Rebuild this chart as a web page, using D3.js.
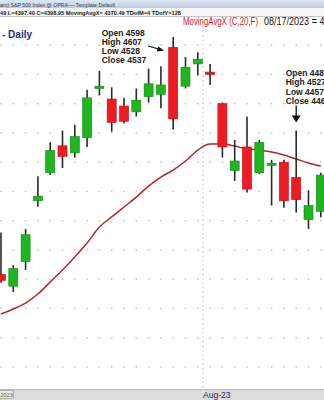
<!DOCTYPE html>
<html>
<head>
<meta charset="utf-8">
<script src="https://cdn.jsdelivr.net/npm/d3@7"></script>
<style>
  html, body { margin: 0; padding: 0; background: #fff; }
  svg { display: block; font-family: "Liberation Sans", Arial, sans-serif; }
</style>
</head>
<body>
<div id="chart"></div>
<script>
// daily bars, S&P 500, Jul 7 - Aug 14 2023
const dates = ["07/07", "07/10", "07/11", "07/12", "07/13", "07/14", "07/17", "07/18", "07/19",
  "07/20", "07/21", "07/24", "07/25", "07/26", "07/27", "07/28", "07/31", "08/01", "08/02",
  "08/03", "08/04", "08/07", "08/08", "08/09", "08/10", "08/11", "08/14"];
const opens = [4404, 4394, 4415, 4467, 4491, 4514, 4508, 4521, 4563, 4554, 4548, 4543, 4556, 4558,
  4598, 4565, 4584, 4577, 4550, 4493, 4513, 4491, 4498, 4500, 4487, 4451, 4458];
const highs = [4440, 4412, 4443, 4488, 4517, 4527, 4532, 4562, 4578, 4564, 4555, 4563, 4580, 4582,
  4607, 4590, 4594, 4584, 4551, 4519, 4539, 4519, 4502, 4502, 4527, 4476, 4491];
const lows = [4397, 4389, 4408, 4462, 4489, 4495, 4504, 4513, 4557, 4526, 4533, 4539, 4551, 4546,
  4528, 4563, 4574, 4566, 4504, 4484, 4474, 4490, 4463, 4461, 4457, 4443, 4453];
const closes = [4399, 4409, 4438, 4471, 4510, 4505, 4522, 4555, 4565, 4534, 4535, 4553, 4567, 4566,
  4537, 4581, 4588, 4575, 4513, 4501, 4477, 4517, 4499, 4467, 4468, 4463, 4489];
// MovingAvgX (C,20,F)
const maValues = [4370.2, 4374.5, 4379.6, 4387.3, 4397.6, 4407.9, 4419.0, 4430.9, 4444.6, 4453.2,
  4461.7, 4470.2, 4479.6, 4487.3, 4493.3, 4501.0, 4510.4, 4515.5, 4515.5, 4513.8, 4511.3, 4510.4,
  4508.7, 4506.1, 4502.7, 4499.3, 4496.7];
const gridPrices = [4600, 4575, 4550, 4525, 4500, 4475, 4450, 4425, 4400, 4375, 4350, 4325];

const noteDates = ["07/27", "08/10"];
const noteLines = [
  ["Open 4598", "High 4607", "Low 4528", "Close 4537"],
  ["Open 4487", "High 4527", "Low 4457", "Close 4468"]
];
const monthLabels = ["Aug-23"];
const monthStarts = ["08/01"];

const headerLine1 = "am) S&P 500 Index @ OPRA  \u2014  Template Default";
const headerLine2 = "49  L=4397.40  C=4398.95  MovingAvgX= 4370.49  TDofM=4  TDofY=128";

const width = 324, height = 400;
const plotTop = 17, plotBottom = 389;
const bodyWidth = 9;
const upColor = "#1fb51f", upStroke = "#0f8a0f";
const downColor = "#ee1b22", downStroke = "#c0080e";

const x = d3.scalePoint().domain(dates).range([1, 320.8]);
const y = d3.scaleLinear().domain([4607, 4457]).range([37, 212.5]);
const I = d3.range(dates.length);

const svg = d3.select("#chart")
  .append("svg")
  .attr("width", width)
  .attr("height", height)
  .attr("viewBox", [0, 0, width, height]);

// header strips
const grad = svg.append("defs").append("linearGradient")
  .attr("id", "hdr").attr("x1", "0%").attr("y1", "0%").attr("x2", "0%").attr("y2", "100%");
grad.append("stop").attr("offset", "0%").attr("stop-color", "#dde7f3");
grad.append("stop").attr("offset", "100%").attr("stop-color", "#bccde3");

svg.append("rect").attr("x", 0).attr("y", 0).attr("width", width).attr("height", 8).attr("fill", "url(#hdr)");
svg.append("rect").attr("x", 0).attr("y", 8).attr("width", width).attr("height", 8).attr("fill", "#f6f6f6");
svg.append("line").attr("x1", 0).attr("x2", width).attr("y1", 16.5).attr("y2", 16.5)
  .attr("stroke", "#c8c8c8").attr("stroke-width", 1);

svg.append("text")
  .attr("x", 0).attr("y", 6.8)
  .attr("font-size", 5.6).attr("fill", "#3a3a4a")
  .attr("textLength", 115).attr("lengthAdjust", "spacingAndGlyphs")
  .text(headerLine1);

svg.append("text")
  .attr("x", 0).attr("y", 14.6)
  .attr("font-size", 5.8).attr("font-weight", "bold").attr("fill", "#1a1a1a")
  .attr("textLength", 181).attr("lengthAdjust", "spacingAndGlyphs")
  .text(headerLine2);

// dotted grid
const grid = svg.append("g").attr("fill", "#c2c2c2");
gridPrices.forEach((p) => {
  grid.selectAll(null)
    .data(I)
    .join("rect")
    .attr("x", (i) => x(dates[i]) - 0.75)
    .attr("y", y(p) - 0.75)
    .attr("width", 1.5)
    .attr("height", 1.5);
});

// month separator
monthStarts.forEach((d, k) => {
  const i = dates.indexOf(d);
  const mx = (x(dates[i - 1]) + x(dates[i])) / 2 - 1;
  svg.append("line")
    .attr("x1", mx).attr("x2", mx)
    .attr("y1", plotTop).attr("y2", plotBottom)
    .attr("stroke", "#b8b8b8").attr("stroke-width", 1)
    .attr("stroke-dasharray", "1.5,3");
});

// moving average
const ma = d3.line()
  .x((i) => x(dates[i]))
  .y((i) => y(maValues[i]))
  .curve(d3.curveMonotoneX);

svg.append("path")
  .attr("d", ma(I))
  .attr("fill", "none")
  .attr("stroke", "#b3262a")
  .attr("stroke-width", 1.5);

// candles
const candles = svg.append("g");

candles.selectAll("line")
  .data(I)
  .join("line")
  .attr("x1", (i) => x(dates[i]))
  .attr("x2", (i) => x(dates[i]))
  .attr("y1", (i) => y(highs[i]))
  .attr("y2", (i) => y(lows[i]))
  .attr("stroke", "#2a2a2a")
  .attr("stroke-width", 1.6);

candles.selectAll("rect")
  .data(I)
  .join("rect")
  .attr("x", (i) => x(dates[i]) - bodyWidth / 2)
  .attr("y", (i) => Math.min(y(opens[i]), y(closes[i])))
  .attr("width", bodyWidth)
  .attr("height", (i) => Math.max(2, Math.abs(y(opens[i]) - y(closes[i]))))
  .attr("fill", (i) => (closes[i] >= opens[i] ? upColor : downColor))
  .attr("stroke", (i) => (closes[i] >= opens[i] ? upStroke : downStroke))
  .attr("stroke-width", 0.6);

// "- Daily" and study title
svg.append("text")
  .attr("x", 2).attr("y", 37.5)
  .attr("font-size", 10).attr("font-weight", "bold").attr("fill", "#25307a")
  .attr("textLength", 30).attr("lengthAdjust", "spacingAndGlyphs")
  .text("- Daily");

svg.append("text")
  .attr("x", 183).attr("y", 25)
  .attr("font-size", 10.8).attr("fill", "#d4202a")
  .attr("textLength", 75).attr("lengthAdjust", "spacingAndGlyphs")
  .text("MovingAvgX (C,20,F)");

svg.append("text")
  .attr("x", 264).attr("y", 25)
  .attr("font-size", 10.8).attr("fill", "#111")
  .attr("textLength", 88).attr("lengthAdjust", "spacingAndGlyphs")
  .text("08/17/2023 = 4370.36");

// annotations
const noteG = svg.append("g")
  .attr("font-size", 8.5).attr("font-weight", "bold").attr("fill", "#222");

// first note: text left of bar, diagonal arrow
{
  const i = dates.indexOf(noteDates[0]);
  const cx = x(dates[i]), hy = y(highs[i]);
  noteLines[0].forEach((t, k) => {
    noteG.append("text").attr("x", cx - 71.5).attr("y", hy - 1.5 + k * 9.3).text(t);
  });
  svg.append("line")
    .attr("x1", cx - 25).attr("y1", hy + 9)
    .attr("x2", cx - 13).attr("y2", hy + 12.5)
    .attr("stroke", "#111").attr("stroke-width", 1.2);
  svg.append("path")
    .attr("d", `M${cx - 9},${hy + 13.5} L${cx - 15},${hy + 9.5} L${cx - 16.5},${hy + 14.5} Z`)
    .attr("fill", "#111");
}

// second note: text above bar, down arrow
{
  const i = dates.indexOf(noteDates[1]);
  const cx = x(dates[i]), hy = y(highs[i]);
  noteLines[1].forEach((t, k) => {
    noteG.append("text").attr("x", cx - 10.5).attr("y", hy - 55 + k * 9.5).text(t);
  });
  svg.append("line")
    .attr("x1", cx).attr("x2", cx)
    .attr("y1", hy - 25).attr("y2", hy - 14)
    .attr("stroke", "#111").attr("stroke-width", 1.3);
  svg.append("path")
    .attr("d", `M${cx - 4.5},${hy - 15} L${cx + 4.5},${hy - 15} L${cx},${hy - 8} Z`)
    .attr("fill", "#111");
}

// bottom date axis
svg.append("rect")
  .attr("x", 0).attr("y", plotBottom).attr("width", width).attr("height", height - plotBottom)
  .attr("fill", "#dcdcdc");
svg.append("line")
  .attr("x1", 0).attr("x2", width).attr("y1", plotBottom + 0.5).attr("y2", plotBottom + 0.5)
  .attr("stroke", "#bdbdbd");

monthStarts.forEach((d, k) => {
  const i = dates.indexOf(d);
  const mx = (x(dates[i - 1]) + x(dates[i])) / 2 - 1;
  svg.append("text")
    .attr("x", mx).attr("y", 398)
    .attr("font-size", 8.6).attr("fill", "#1f2a66")
    .text(monthLabels[k]);
});

svg.append("rect")
  .attr("x", -1).attr("y", 390.5).attr("width", 14.5).attr("height", 8)
  .attr("fill", "#ececdf").attr("stroke", "#9a9a8a").attr("stroke-width", 0.7);
svg.append("text")
  .attr("x", 0.5).attr("y", 397)
  .attr("font-size", 5.5).attr("fill", "#555")
  .text("2023");
</script>
</body>
</html>
